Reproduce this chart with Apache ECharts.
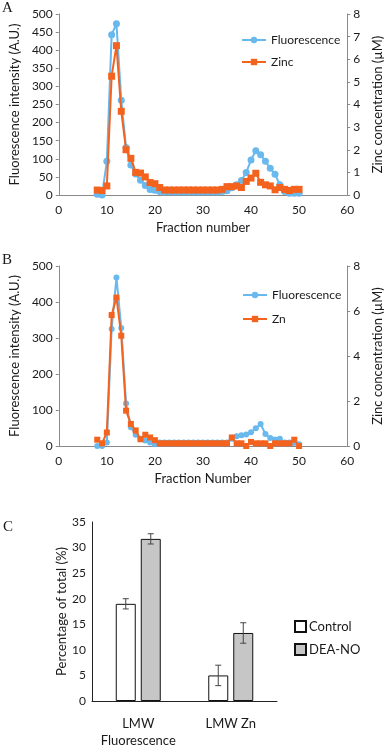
<!DOCTYPE html>
<html><head><meta charset="utf-8">
<script src="https://cdn.jsdelivr.net/npm/echarts@6/dist/echarts.min.js"></script>
<style>html,body{margin:0;padding:0;background:#fff}#c{width:392px;height:749px}</style>
</head><body><div id="c"></div>
<script>
const fractions = [8,9,10,11,12,13,14,15,16,17,18,19,20,21,22,23,24,25,26,27,28,29,30,31,32,33,34,35,36,37,38,39,40,41,42,43,44,45,46,47,48,49,50];
const fluorA = [2,0,93,443,473,262,131,83,58,41,26,15,13,10,8,8,8,8,8,8,8,8,8,8,8,8,10,12,20,28,40,62,97,122,111,93,74,57,28,10,5,5,5];
const zincA = [0.22,0.2,0.4,5.25,6.6,3.7,2.0,1.62,1.0,0.97,0.8,0.55,0.5,0.33,0.22,0.22,0.22,0.22,0.22,0.22,0.22,0.22,0.22,0.22,0.22,0.22,0.25,0.37,0.37,0.4,0.33,0.6,0.75,0.96,0.56,0.45,0.4,0.23,0.33,0.25,0.2,0.25,0.25];
const fluorB = [0,0,10,325,468,328,118,52,31,20,15,10,5,10,10,10,10,10,10,10,10,10,10,10,10,10,10,10,20,27,30,32,38,49,61,33,22,18,20,10,10,8,5];
const zincB = [0.28,0.12,0.6,5.82,6.6,4.9,1.57,0.98,0.69,0.3,0.5,0.38,0.26,0.12,0.12,0.12,0.12,0.12,0.12,0.12,0.12,0.12,0.12,0.12,0.12,0.12,0.12,0.12,0.38,0.12,0.12,0,0.18,0.12,0.12,0.12,0,0.12,0.12,0.12,0.12,0.28,0];
const cCategories = ['LMW\nFluorescence','LMW Zn'];
const cControl = [19.0, 5.0];
const cControlErr = [1.0, 2.0];
const cDea = [31.7, 13.3];
const cDeaErr = [1.0, 2.0];

const BLUE = '#69b8ee';
const ORANGE = '#f4631e';
const FONT = 'Lato';
const TXT = '#1a1a1a';
const AX = '#8a8a8a';
const pairs = (ys) => fractions.map((f,i)=>[f, ys[i]]);

function yAx(gi, max, interval, name, gap, pos) {
  return {type:'value', gridIndex:gi, min:0, max:max, interval:interval, position:pos,
    name:name, nameLocation:'middle', nameGap:gap,
    nameTextStyle:{fontFamily:FONT,fontSize:13,color:TXT},
    axisLine:{show:true,lineStyle:{color:AX,width:1}},
    axisTick:{show:true,length:3,lineStyle:{color:AX}},
    axisLabel:{fontFamily:FONT,fontSize:12,color:TXT,margin:6},
    splitLine:{show:false}};
}
function xAx(gi, name) {
  return {type:'value', gridIndex:gi, min:0, max:60, interval:10,
    name:name, nameLocation:'middle', nameGap:26,
    nameTextStyle:{fontFamily:FONT,fontSize:13,color:TXT},
    axisLine:{show:true,onZero:false,lineStyle:{color:AX,width:1}},
    axisTick:{show:false},
    axisLabel:{fontFamily:FONT,fontSize:12,color:TXT,margin:9},
    splitLine:{show:false}};
}
function lineS(name, xi, yi, data, color, symbol, size) {
  return {type:'line', name:name, xAxisIndex:xi, yAxisIndex:yi, data:data,
    symbol:symbol, symbolSize:size, showSymbol:true,
    lineStyle:{color:color,width:2}, itemStyle:{color:color}, z: symbol==='rect'?3:2, animation:false};
}
const barBorder = {borderColor:'#111', borderWidth:1};
function errSeries(name, vals, errs, offset) {
  return {type:'custom', name:name+'err', xAxisIndex:2, yAxisIndex:4, z:5,
    data: vals.map((v,i)=>[i, v, errs[i]]),
    renderItem: function(params, api){
      const i = api.value(0), v = api.value(1), e = api.value(2);
      const top = api.coord([i, v+e]); const bot = api.coord([i, v-e]);
      const x = top[0] + offset; const w = 3;
      const st = {stroke:'#444', lineWidth:1};
      return {type:'group', children:[
        {type:'line', shape:{x1:x,y1:top[1],x2:x,y2:bot[1]}, style:st},
        {type:'line', shape:{x1:x-w,y1:top[1],x2:x+w,y2:top[1]}, style:st},
        {type:'line', shape:{x1:x-w,y1:bot[1],x2:x+w,y2:bot[1]}, style:st}
      ]};
    }, animation:false, silent:true};
}

const option = {
  animation:false,
  textStyle:{fontFamily:FONT},
  graphic:[
    {type:'text', left:2, top:1, style:{text:'A', font:'15px "Liberation Serif"', fill:TXT}},
    {type:'text', left:2, top:253, style:{text:'B', font:'15px "Liberation Serif"', fill:TXT}},
    {type:'text', left:3, top:520, style:{text:'C', font:'15px "Liberation Serif"', fill:TXT}}
  ],
  grid:[
    {left:48, top:14, width:300, height:181},
    {left:52, top:266, width:301, height:180},
    {left:92, top:522, width:185, height:186}
  ],
  legend:[
    {orient:'vertical', left:236, top:29, itemGap:10, itemWidth:24, itemHeight:8,
     data:['Fluorescence','Zinc'], textStyle:{fontFamily:FONT,fontSize:12,color:TXT}},
    {orient:'vertical', left:237, top:284, itemGap:12, itemWidth:24, itemHeight:8,
     data:['Fluorescence ','Zn'], textStyle:{fontFamily:FONT,fontSize:12,color:TXT}},
    {orient:'vertical', left:289, top:615, itemGap:10, itemWidth:11, itemHeight:11, icon:'rect',
     data:['Control','DEA-NO'], textStyle:{fontFamily:FONT,fontSize:13,color:TXT,padding:[0,0,0,-2]}}
  ],
  xAxis:[
    xAx(0,'Fraction number'),
    xAx(1,'Fraction Number'),
    {type:'category', gridIndex:2, data:cCategories,
     axisLine:{show:true,lineStyle:{color:'#222',width:1}}, axisTick:{show:false},
     axisLabel:{interval:0, fontFamily:FONT,fontSize:13,color:TXT,margin:14,lineHeight:17}}
  ],
  yAxis:[
    yAx(0,500,50,'Fluorescence intensity (A.U.)',36,'left'),
    yAx(0,8,1,'Zinc concentration (\u00b5M)',22,'right'),
    yAx(1,500,100,'Fluorescence intensity (A.U.)',36,'left'),
    yAx(1,8,2,'Zinc concentration (\u00b5M)',22,'right'),
    Object.assign(yAx(2,35,5,'Percentage of total (%)',24,'left'), {
      axisLine:{show:true,lineStyle:{color:'#222',width:1}}, axisTick:{show:false}})
  ],
  series:[
    lineS('Fluorescence',0,0,pairs(fluorA),BLUE,'circle',7),
    lineS('Zinc',0,1,pairs(zincA),ORANGE,'rect',7),
    lineS('Fluorescence ',1,2,pairs(fluorB),BLUE,'circle',6),
    lineS('Zn',1,3,pairs(zincB),ORANGE,'rect',6),
    {type:'bar', name:'Control', xAxisIndex:2, yAxisIndex:4, data:cControl, barWidth:20, barGap:'25%',
     itemStyle:Object.assign({color:'#ffffff'}, barBorder)},
    {type:'bar', name:'DEA-NO', xAxisIndex:2, yAxisIndex:4, data:cDea, barWidth:20, barGap:'25%',
     itemStyle:Object.assign({color:'#c6c6c6'}, barBorder)},
    errSeries('Control', cControl, cControlErr, -12.5),
    errSeries('DEA-NO', cDea, cDeaErr, 12.5)
  ]
};
const chart = echarts.init(document.getElementById('c'), null, {renderer:'canvas'});
chart.setOption(option);
</script></body></html>
